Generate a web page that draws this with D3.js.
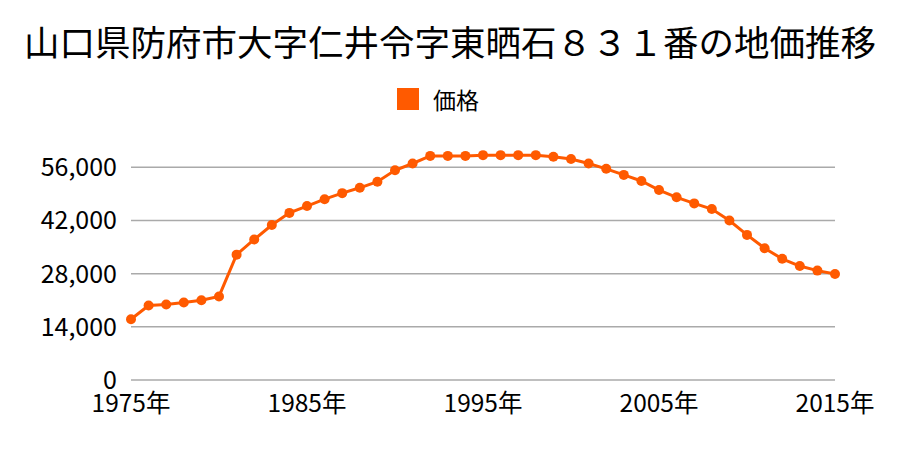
<!DOCTYPE html>
<html><head><meta charset="utf-8">
<script src="https://cdn.jsdelivr.net/npm/d3@7"></script>
<style>body{margin:0;background:#fff}svg{display:block}text{font-family:"Noto Sans CJK JP",sans-serif}</style>
</head><body>
<svg id="c" width="900" height="450"></svg>
<script>
const title = "山口県防府市大字仁井令字東晒石８３１番の地価推移";
const seriesName = "価格";
const years = d3.range(1975, 2016);
const prices = [16000,19600,19900,20400,21000,22000,33000,37000,40800,44000,
  45800,47600,49200,50600,52200,55200,57000,59000,59000,59000,
  59200,59200,59200,59200,58800,58200,57000,55600,54000,52400,
  50000,48100,46500,45000,42000,38200,34700,31900,30000,28800,27900];
const yTicks = [0,14000,28000,42000,56000];
const xTickYears = [1975,1985,1995,2005,2015];
const color = "#ff5a00";

const svg = d3.select("#c");
const x = d3.scaleLinear().domain([1975,2015]).range([131,835]);
const y = d3.scaleLinear().domain([0,56000]).range([380,167.3]);

svg.append("text").attr("x",450).attr("y",56).attr("text-anchor","middle")
  .attr("font-size",35.5).attr("fill","#000").text(title);

svg.append("rect").attr("x",397).attr("y",88).attr("width",22).attr("height",22).attr("fill",color);
svg.append("text").attr("x",433).attr("y",109).attr("font-size",23).attr("fill","#000").text(seriesName);

svg.append("g").selectAll("line").data(yTicks).join("line")
  .attr("x1",131).attr("x2",835).attr("y1",d=>y(d)).attr("y2",d=>y(d))
  .attr("stroke","#aaa").attr("stroke-width",1.5);

svg.append("g").selectAll("text").data(yTicks).join("text")
  .attr("x",117).attr("y",d=>y(d)+9).attr("text-anchor","end").attr("font-size",25)
  .text(d=>d3.format(",")(d));

svg.append("g").selectAll("text").data(xTickYears).join("text")
  .attr("x",d=>x(d)).attr("y",412).attr("text-anchor","middle").attr("font-size",24.5)
  .text(d=>d+"年");

const data = years.map((yr,i)=>({yr, v:prices[i]}));
svg.append("path").datum(data)
  .attr("d", d3.line().x(d=>x(d.yr)).y(d=>y(d.v)))
  .attr("fill","none").attr("stroke",color).attr("stroke-width",3);
svg.append("g").selectAll("circle").data(data).join("circle")
  .attr("cx",d=>x(d.yr)).attr("cy",d=>y(d.v)).attr("r",5).attr("fill",color);
</script>
</body></html>
